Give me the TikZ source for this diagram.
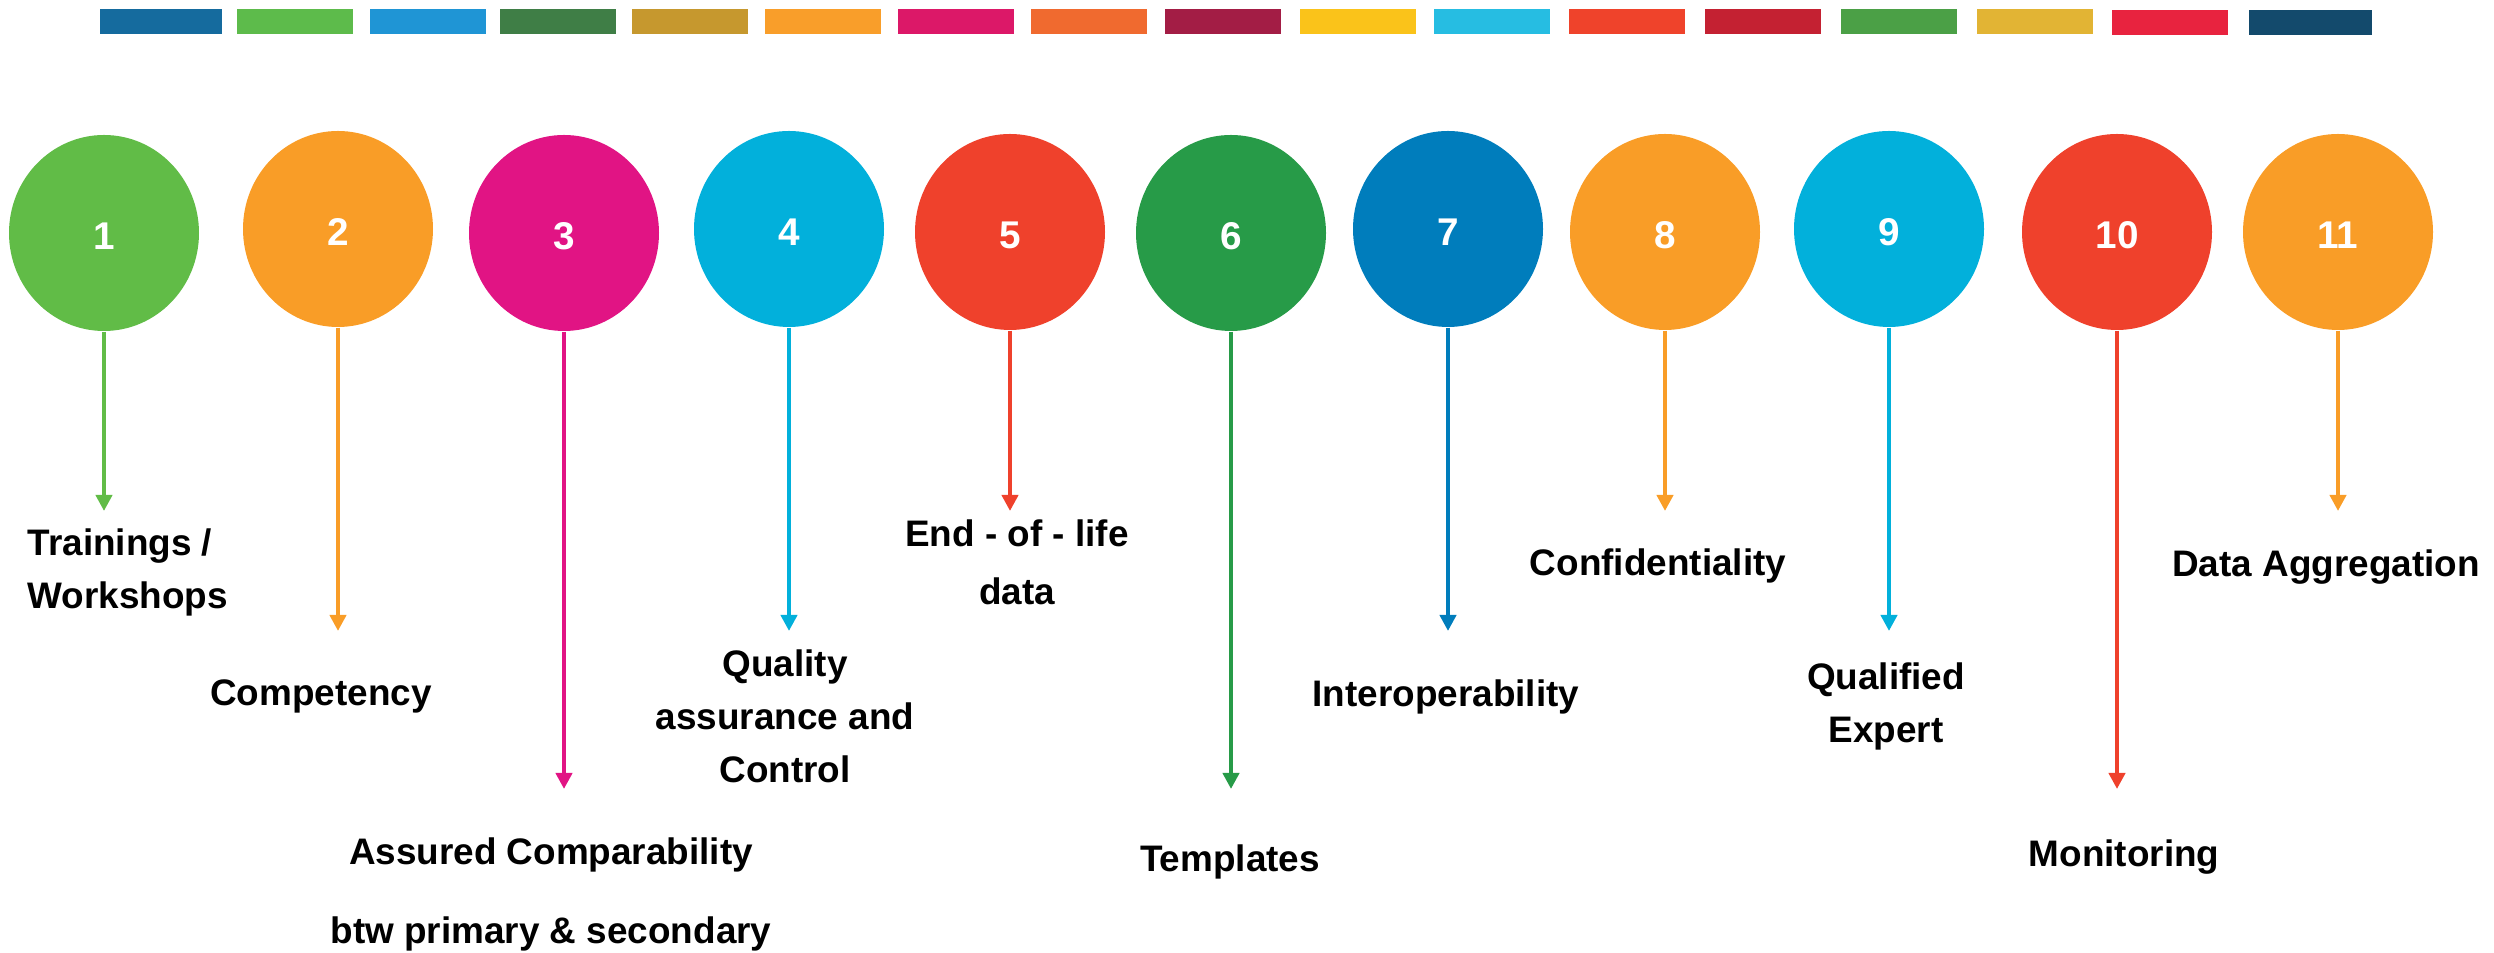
\documentclass[tikz,border=0pt]{standalone}
\usepackage{fontspec}
\setmainfont{Liberation Sans}
\usetikzlibrary{shapes.geometric,arrows.meta}

\definecolor{strip1}{HTML}{156B9E}
\definecolor{strip2}{HTML}{5DBB4B}
\definecolor{strip3}{HTML}{1F95D5}
\definecolor{strip4}{HTML}{3F7E46}
\definecolor{strip5}{HTML}{C6982E}
\definecolor{strip6}{HTML}{F99E2A}
\definecolor{strip7}{HTML}{DC1868}
\definecolor{strip8}{HTML}{F06A2F}
\definecolor{strip9}{HTML}{A31D45}
\definecolor{strip10}{HTML}{FAC31A}
\definecolor{strip11}{HTML}{26BDE2}
\definecolor{strip12}{HTML}{EF432B}
\definecolor{strip13}{HTML}{C42132}
\definecolor{strip14}{HTML}{4BA046}
\definecolor{strip15}{HTML}{E2B434}
\definecolor{strip16}{HTML}{E8233F}
\definecolor{strip17}{HTML}{134A6C}

\definecolor{bubGreen}{HTML}{61BC47}
\definecolor{bubOrange}{HTML}{F99D27}
\definecolor{bubMagenta}{HTML}{E11484}
\definecolor{bubCyan}{HTML}{02B0DB}
\definecolor{bubRed}{HTML}{EF412C}
\definecolor{bubDarkGreen}{HTML}{279B48}
\definecolor{bubBlue}{HTML}{007DBC}

\tikzset{
	bubble/.style={ellipse, fill=#1, minimum width=19mm, minimum height=19.6mm, inner sep=0pt, text height=3.4mm, text depth=0pt, text=white, font=\bfseries\fontsize{11}{13}\selectfont},
	stem/.style={draw=#1, line width=0.4mm, -{Triangle[width=1.6mm,length=1.6mm]}},
	tag/.style={font=\bfseries\fontsize{10.5}{15.1}\selectfont, align=center, inner sep=0pt, anchor=base},
}

\begin{document}
\begin{tikzpicture}[x=0.1mm, y=-0.1mm]
	\useasboundingbox (0, 0) rectangle (2494, 953);

	\fill[strip1] (100, 9.5) rectangle (222, 34);
	\fill[strip2] (237, 9.5) rectangle (353, 34);
	\fill[strip3] (370, 9.5) rectangle (486, 34);
	\fill[strip4] (500, 9.5) rectangle (616, 34);
	\fill[strip5] (632, 9.5) rectangle (748, 34);
	\fill[strip6] (765, 9.5) rectangle (881, 34);
	\fill[strip7] (898, 9.5) rectangle (1014, 34);
	\fill[strip8] (1031, 9.5) rectangle (1147, 34);
	\fill[strip9] (1165, 9.5) rectangle (1281, 34);
	\fill[strip10] (1300, 9.5) rectangle (1416, 34);
	\fill[strip11] (1434, 9.5) rectangle (1550, 34);
	\fill[strip12] (1569, 9.5) rectangle (1685, 34);
	\fill[strip13] (1705, 9.5) rectangle (1821, 34);
	\fill[strip14] (1841, 9.5) rectangle (1957, 34);
	\fill[strip15] (1977, 9.5) rectangle (2093, 34);
	\fill[strip16] (2112, 10.5) rectangle (2228, 35);
	\fill[strip17] (2249, 10.5) rectangle (2372, 35);

	\node[bubble=bubGreen] (c1) at (104, 233) {1};
	\node[bubble=bubOrange] (c2) at (338, 229) {2};
	\node[bubble=bubMagenta] (c3) at (564, 233) {3};
	\node[bubble=bubCyan] (c4) at (789, 229) {4};
	\node[bubble=bubRed] (c5) at (1010, 232) {5};
	\node[bubble=bubDarkGreen] (c6) at (1231, 233) {6};
	\node[bubble=bubBlue] (c7) at (1448, 229) {7};
	\node[bubble=bubOrange] (c8) at (1665, 232) {8};
	\node[bubble=bubCyan] (c9) at (1889, 229) {9};
	\node[bubble=bubRed] (c10) at (2117, 232) {10};
	\node[bubble=bubOrange] (c11) at (2338, 232) {11};

	\coordinate (t1) at (104, 511);
	\coordinate (t2) at (338, 631);
	\coordinate (t3) at (564, 789);
	\coordinate (t4) at (789, 631);
	\coordinate (t5) at (1010, 511);
	\coordinate (t6) at (1231, 789);
	\coordinate (t7) at (1448, 631);
	\coordinate (t8) at (1665, 511);
	\coordinate (t9) at (1889, 631);
	\coordinate (t10) at (2117, 789);
	\coordinate (t11) at (2338, 511);

	\draw[stem=bubGreen] (c1) -- (t1);
	\draw[stem=bubOrange] (c2) -- (t2);
	\draw[stem=bubMagenta] (c3) -- (t3);
	\draw[stem=bubCyan] (c4) -- (t4);
	\draw[stem=bubRed] (c5) -- (t5);
	\draw[stem=bubDarkGreen] (c6) -- (t6);
	\draw[stem=bubBlue] (c7) -- (t7);
	\draw[stem=bubOrange] (c8) -- (t8);
	\draw[stem=bubCyan] (c9) -- (t9);
	\draw[stem=bubRed] (c10) -- (t10);
	\draw[stem=bubOrange] (c11) -- (t11);

	\node[tag, align=left, anchor=base west] (l1) at (27, 609) {Trainings /\\Workshops};
	\node[tag] (l2) at (321, 706) {Competency};
	\node[tag] (l3) at (551, 944) {Assured Comparability\\[7.4pt]btw primary \& secondary};
	\node[tag] (l4) at (785, 783) {Quality\\assurance and\\Control};
	\node[tag] (l5) at (1017, 605) {End - of - life\\[1.4pt]data};
	\node[tag] (l6) at (1230, 872) {Templates};
	\node[tag] (l7) at (1446, 707) {Interoperability};
	\node[tag] (l8) at (1658, 576) {Confidentiality};
	\node[tag] (l9) at (1886, 743) {Qualified\\Expert};
	\node[tag] (l10) at (2124, 867) {Monitoring};
	\node[tag] (l11) at (2326, 577) {Data Aggregation};

\end{tikzpicture}
\end{document}
